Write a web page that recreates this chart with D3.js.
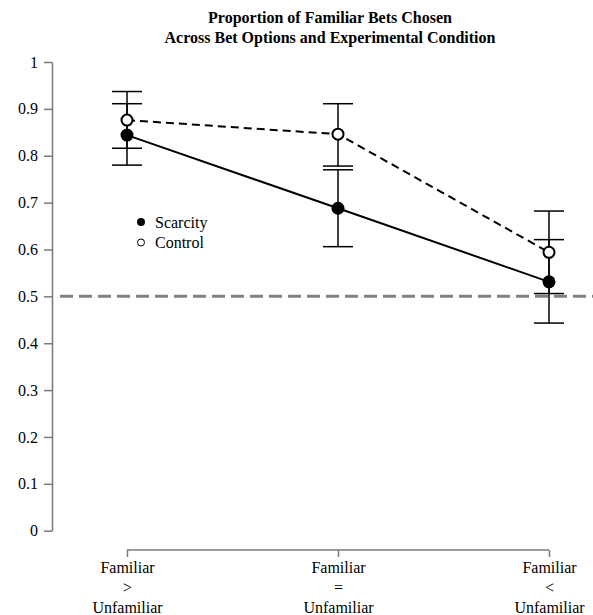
<!DOCTYPE html>
<html>
<head>
<meta charset="utf-8">
<script src="https://cdn.jsdelivr.net/npm/d3@7"></script>
<style>
  html, body { margin: 0; padding: 0; background: #fff; }
  svg { display: block; font-family: "Liberation Serif", "Times New Roman", serif; }
</style>
</head>
<body>
<div id="chart"></div>
<script>
// ---- data ----
const categories = ["Familiar > Unfamiliar", "Familiar = Unfamiliar", "Familiar < Unfamiliar"];
const categoryLines = [["Familiar", ">", "Unfamiliar"], ["Familiar", "=", "Unfamiliar"], ["Familiar", "<", "Unfamiliar"]];
const scarcityMean = [0.844, 0.688, 0.531];
const scarcityLow  = [0.780, 0.606, 0.443];
const scarcityHigh = [0.911, 0.770, 0.621];
const controlMean  = [0.876, 0.846, 0.594];
const controlLow   = [0.816, 0.778, 0.506];
const controlHigh  = [0.937, 0.911, 0.682];
const yTicks = [0, 0.1, 0.2, 0.3, 0.4, 0.5, 0.6, 0.7, 0.8, 0.9, 1];
const yTickLabels = ["0", "0.1", "0.2", "0.3", "0.4", "0.5", "0.6", "0.7", "0.8", "0.9", "1"];
const referenceLevel = 0.5;
const titleLines = ["Proportion of Familiar Bets Chosen", "Across Bet Options and Experimental Condition"];
const legendLabels = ["Scarcity", "Control"];

// ---- layout ----
const W = 593, H = 615;
const svg = d3.select("#chart").append("svg").attr("width", W).attr("height", H);

const x = d3.scalePoint().domain(categories).range([127, 549]);
const y = d3.scaleLinear().domain([0, 1]).range([530.7, 62]);

const axisColor = "#7a7a7a";

// title
svg.append("g").selectAll("text").data(titleLines).join("text")
  .attr("x", 330).attr("y", (d, i) => 23 + i * 20)
  .attr("text-anchor", "middle").attr("font-weight", "bold").attr("font-size", 16)
  .attr("fill", "#000").text(d => d);

// y axis
const yAxis = svg.append("g").attr("transform", "translate(52,0)")
  .call(d3.axisLeft(y).tickValues(yTicks).tickFormat((d, i) => yTickLabels[i]).tickSize(8).tickSizeOuter(0).tickPadding(6));
yAxis.select(".domain").attr("stroke", axisColor).attr("stroke-width", 1.5);
yAxis.selectAll(".tick line").attr("stroke", axisColor).attr("stroke-width", 1.5);
yAxis.selectAll(".tick text").attr("font-size", 16).attr("fill", "#000")
  .attr("font-family", "Liberation Serif, Times New Roman, serif");

// x axis
const xAxis = svg.append("g").attr("transform", "translate(0,550)")
  .call(d3.axisBottom(x).tickSize(7).tickSizeOuter(0).tickFormat(""));
xAxis.select(".domain").attr("stroke", axisColor).attr("stroke-width", 1.5)
  .attr("d", `M${x(categories[0])},0H${x(categories[categories.length - 1])}`);
xAxis.selectAll(".tick line").attr("stroke", axisColor).attr("stroke-width", 1.5);
xAxis.selectAll(".tick").each(function(d, i) {
  const g = d3.select(this);
  categoryLines[i].forEach((ln, j) => {
    g.append("text").attr("x", 0).attr("y", 23 + j * 20)
      .attr("text-anchor", "middle").attr("font-size", 16).attr("fill", "#000")
      .attr("font-family", "Liberation Serif, Times New Roman, serif").text(ln);
  });
});

// reference dashed line
svg.append("line")
  .attr("x1", 60).attr("x2", W).attr("y1", y(referenceLevel)).attr("y2", y(referenceLevel))
  .attr("stroke", "#808080").attr("stroke-width", 3).attr("stroke-dasharray", "13,6");

const scarcity = categories.map((c, i) => ({ c, m: scarcityMean[i], lo: scarcityLow[i], hi: scarcityHigh[i] }));
const control = categories.map((c, i) => ({ c, m: controlMean[i], lo: controlLow[i], hi: controlHigh[i] }));

// error bars
function errorBars(data) {
  const g = svg.append("g").attr("stroke", "#000").attr("stroke-width", 1.5);
  g.selectAll("line.v").data(data).join("line").attr("class", "v")
    .attr("x1", d => x(d.c)).attr("x2", d => x(d.c)).attr("y1", d => y(d.lo)).attr("y2", d => y(d.hi));
  g.selectAll("line.lo").data(data).join("line").attr("class", "lo")
    .attr("x1", d => x(d.c) - 15).attr("x2", d => x(d.c) + 15).attr("y1", d => y(d.lo)).attr("y2", d => y(d.lo));
  g.selectAll("line.hi").data(data).join("line").attr("class", "hi")
    .attr("x1", d => x(d.c) - 15).attr("x2", d => x(d.c) + 15).attr("y1", d => y(d.hi)).attr("y2", d => y(d.hi));
}
errorBars(scarcity);
errorBars(control);

const line = d3.line().x(d => x(d.c)).y(d => y(d.m));
svg.append("path").datum(scarcity).attr("d", line).attr("fill", "none")
  .attr("stroke", "#000").attr("stroke-width", 2);
svg.append("path").datum(control).attr("d", line).attr("fill", "none")
  .attr("stroke", "#000").attr("stroke-width", 2).attr("stroke-dasharray", "8,5");

svg.append("g").selectAll("circle").data(scarcity).join("circle")
  .attr("cx", d => x(d.c)).attr("cy", d => y(d.m)).attr("r", 6.5).attr("fill", "#000");
svg.append("g").selectAll("circle").data(control).join("circle")
  .attr("cx", d => x(d.c)).attr("cy", d => y(d.m)).attr("r", 5.5)
  .attr("fill", "#fff").attr("stroke", "#000").attr("stroke-width", 2);

// legend
const leg = svg.append("g").attr("transform", "translate(141,222)");
leg.append("circle").attr("cx", 0).attr("cy", 0).attr("r", 4).attr("fill", "#000");
leg.append("circle").attr("cx", 0).attr("cy", 20.5).attr("r", 3.5).attr("fill", "#fff").attr("stroke", "#000").attr("stroke-width", 1);
leg.selectAll("text").data(legendLabels).join("text")
  .attr("x", 14).attr("y", (d, i) => i * 20.5 + 5.5).attr("font-size", 16).attr("fill", "#000").text(d => d);
</script>
</body>
</html>
